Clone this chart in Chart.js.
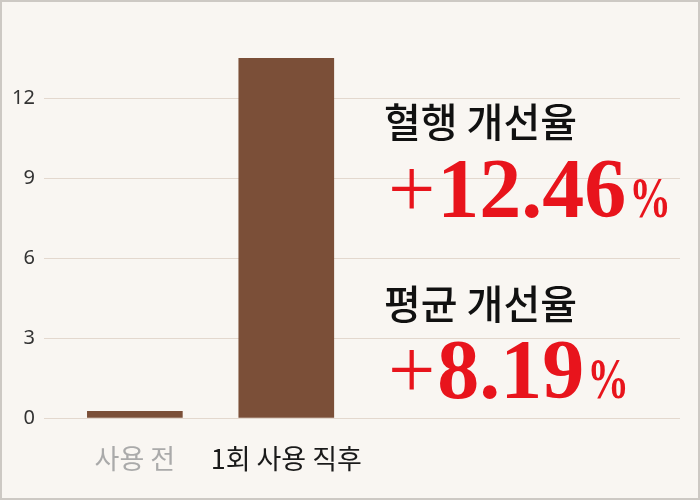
<!DOCTYPE html>
<html>
<head>
<meta charset="utf-8">
<script src="https://cdn.jsdelivr.net/npm/chart.js@4"></script>
<style>
html,body{margin:0;padding:0;background:#f9f6f2;}
#wrap{width:700px;height:500px;position:relative;}
canvas{display:block;}
</style>
</head>
<body>
<div id="wrap"><canvas id="c" width="700" height="500"></canvas></div>
<script>
const categories = ['사용 전', '1회 사용 직후'];
const values = [0.25, 13.5];
const yTicks = [0, 3, 6, 9, 12];
const labelColors = ['#aaaaaa', '#1a1a1a'];
const noteTitles = ['혈행 개선율', '평균 개선율'];
const noteSigns = ['+', '+'];
const noteNumbers = ['12.46', '8.19'];
const noteUnits = ['%', '%'];

const bgPlugin = {
  id: 'bg',
  beforeDraw(chart) {
    const ctx = chart.ctx;
    ctx.save();
    ctx.fillStyle = '#f9f6f2';
    ctx.fillRect(0, 0, chart.width, chart.height);
    ctx.restore();
  },
  afterDraw(chart) {
    const ctx = chart.ctx;
    ctx.save();
    ctx.strokeStyle = '#cdc9c4';
    ctx.lineWidth = 2;
    ctx.strokeRect(1, 1, chart.width - 2, chart.height - 2);
    ctx.restore();
  }
};

const notePlugin = {
  id: 'notes',
  afterDatasetsDraw(chart) {
    const ctx = chart.ctx;
    const pos = [{ty: 122, vy: 217}, {ty: 304, vy: 398}];
    ctx.save();
    noteTitles.forEach((t, i) => {
      ctx.textAlign = 'left';
      ctx.textBaseline = 'middle';
      ctx.fillStyle = '#111111';
      ctx.font = '500 40px "Noto Sans CJK KR", sans-serif';
      ctx.fillText(t, 384, pos[i].ty);
      ctx.textBaseline = 'alphabetic';
      ctx.fillStyle = '#e8141c';
      let x = 388;
      ctx.font = '84px "Liberation Serif", serif';
      ctx.fillText(noteSigns[i], x, pos[i].vy);
      x += ctx.measureText(noteSigns[i]).width + 2;
      ctx.font = 'bold 84px "Liberation Serif", serif';
      ctx.fillText(noteNumbers[i], x, pos[i].vy);
      x += ctx.measureText(noteNumbers[i]).width + 3;
      ctx.save();
      ctx.translate(x, pos[i].vy);
      ctx.scale(0.72, 1);
      ctx.font = 'bold 58px "Liberation Serif", serif';
      ctx.fillText(noteUnits[i], 0, 0);
      ctx.restore();
    });
    ctx.restore();
  }
};

new Chart(document.getElementById('c'), {
  type: 'bar',
  data: {
    datasets: [{
      data: categories.map((c, i) => ({x: i, y: values[i]})),
      backgroundColor: '#7b4f38',
      borderWidth: 0,
      barThickness: 95
    }]
  },
  options: {
    responsive: false,
    animation: false,
    layout: {padding: {left: 0, right: 20, top: 16, bottom: 0}},
    plugins: {legend: {display: false}, tooltip: {enabled: false}},
    scales: {
      x: {
        type: 'linear',
        offset: false,
        min: -0.6,
        max: 3.6,
        grid: {display: false, offset: false},
        border: {display: false},
        afterBuildTicks(axis) { axis.ticks = categories.map((c, i) => ({value: i})); },
        afterFit(axis) { axis.height = 82; },
        ticks: {
          padding: 17,
          autoSkip: false,
          maxRotation: 0,
          minRotation: 0,
          font: {family: '"Noto Sans CJK KR", sans-serif', size: 27},
          color: (ctx) => labelColors[ctx.index] || '#1a1a1a',
          callback: (v) => categories[v] !== undefined ? categories[v] : ''
        }
      },
      y: {
        min: 0,
        max: 14.9,
        afterBuildTicks(axis) { axis.ticks = yTicks.map(v => ({value: v})); },
        afterFit(axis) { axis.width = 44; },
        grid: {color: '#e3d8ce', lineWidth: 1, drawTicks: false},
        border: {display: false},
        ticks: {
          padding: 9,
          font: {family: '"Noto Sans", sans-serif', size: 20},
          color: '#333333'
        }
      }
    }
  },
  plugins: [bgPlugin, notePlugin]
});
</script>
</body>
</html>
